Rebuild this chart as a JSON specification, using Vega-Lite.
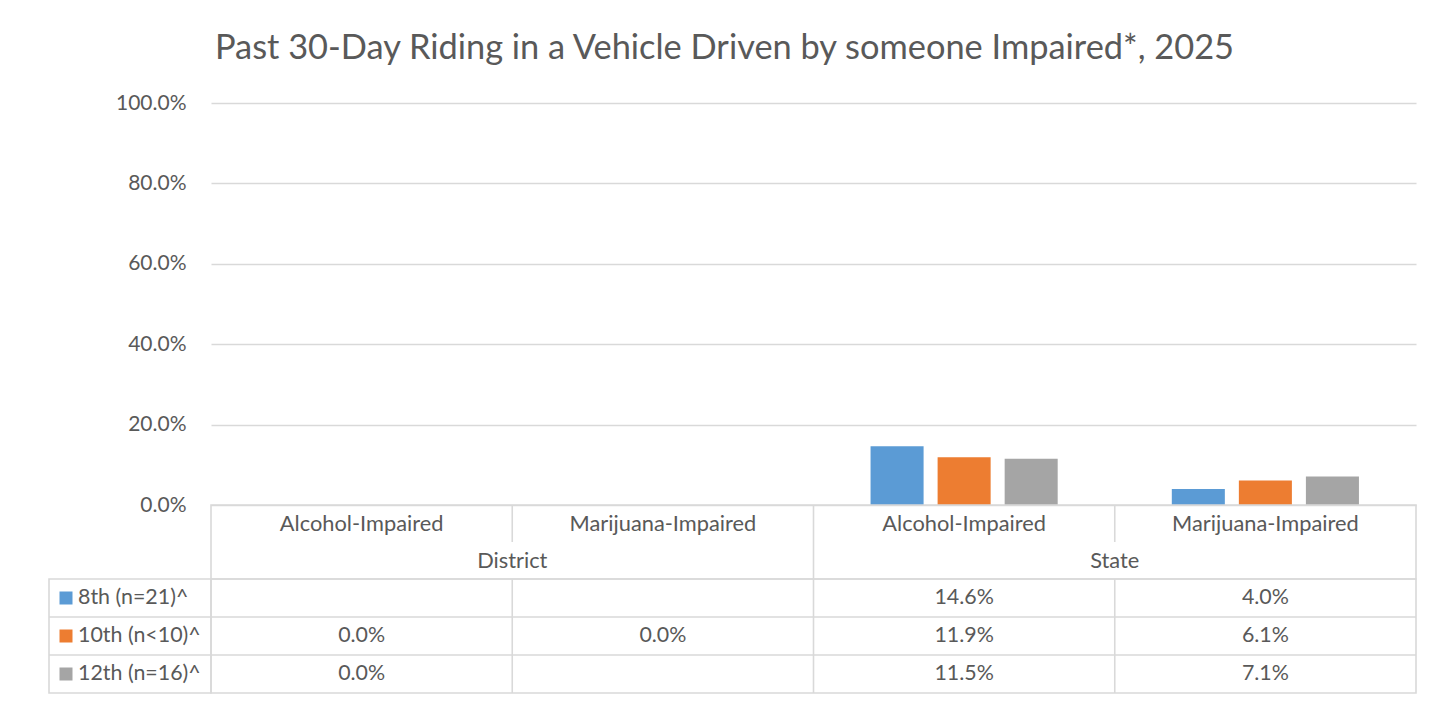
{
  "$schema": "https://vega.github.io/schema/vega-lite/v6.json",
  "padding": {"left": 47, "top": 30, "right": 31, "bottom": 10},
  "background": "white",
  "title": {"text": "Past 30-Day Riding in a Vehicle Driven by someone Impaired*, 2025", "fontSize": 34.4, "font": "Lato", "fontWeight": "normal", "color": "#595959", "anchor": "middle", "offset": 26, "dx": -8},
  "config": {"view": {"stroke": null}, "font": "Lato"},
  "datasets": {
    "bars": [
      {"col": "DA", "grade": "8th (n=21)^", "value": null},
      {"col": "DA", "grade": "10th (n<10)^", "value": 0.0},
      {"col": "DA", "grade": "12th (n=16)^", "value": 0.0},
      {"col": "DM", "grade": "8th (n=21)^", "value": null},
      {"col": "DM", "grade": "10th (n<10)^", "value": 0.0},
      {"col": "DM", "grade": "12th (n=16)^", "value": null},
      {"col": "SA", "grade": "8th (n=21)^", "value": 0.146},
      {"col": "SA", "grade": "10th (n<10)^", "value": 0.119},
      {"col": "SA", "grade": "12th (n=16)^", "value": 0.115},
      {"col": "SM", "grade": "8th (n=21)^", "value": 0.04},
      {"col": "SM", "grade": "10th (n<10)^", "value": 0.061},
      {"col": "SM", "grade": "12th (n=16)^", "value": 0.071}
    ],
    "cats": [
      {"col": "DA", "label": "Alcohol-Impaired"},
      {"col": "DM", "label": "Marijuana-Impaired"},
      {"col": "SA", "label": "Alcohol-Impaired"},
      {"col": "SM", "label": "Marijuana-Impaired"}
    ],
    "groups": [{"group": "District"}, {"group": "State"}],
    "vsegs": [
      {"col": "DM", "row": "cat"},
      {"col": "SA", "row": "cat"},
      {"col": "SM", "row": "cat"},
      {"col": "SA", "row": "grp"}
    ],
    "grades": [
      {"grade": "8th (n=21)^"},
      {"grade": "10th (n<10)^"},
      {"grade": "12th (n=16)^"}
    ]
  },
  "columns": 2,
  "spacing": 0,
  "bounds": "flush",
  "concat": [
    {
      "width": 162, "height": 402,
      "data": {"values": [{}]},
      "mark": {"type": "text", "text": ""},
      "encoding": {}
    },
    {
      "width": 1205, "height": 402,
      "data": {"name": "bars"},
      "mark": {"type": "bar"},
      "encoding": {
        "x": {"field": "col", "type": "nominal", "scale": {"type": "band", "domain": ["DA", "DM", "SA", "SM"], "paddingInner": 0, "paddingOuter": 0}, "axis": null},
        "xOffset": {"field": "grade", "type": "nominal", "scale": {"domain": ["8th (n=21)^", "10th (n<10)^", "12th (n=16)^"], "paddingInner": 0.209, "paddingOuter": 0.851}},
        "y": {"field": "value", "type": "quantitative", "scale": {"domain": [0, 1]},
              "axis": {"values": [0, 0.2, 0.4, 0.6, 0.8, 1], "format": ".1%", "title": null, "domain": false, "ticks": false, "labelPadding": 25, "labelFontSize": 21, "labelColor": "#595959", "labelFont": "Lato", "gridColor": "#D9D9D9", "gridWidth": 1.6}},
        "color": {"field": "grade", "type": "nominal", "scale": {"domain": ["8th (n=21)^", "10th (n<10)^", "12th (n=16)^"], "range": ["#5B9BD5", "#ED7D31", "#A5A5A5"]}, "legend": null}
      }
    },
    {
      "width": 162, "height": 74,
      "data": {"values": [{}]},
      "mark": {"type": "text", "text": ""},
      "encoding": {}
    },
    {
      "width": 1205, "height": 74,
      "view": {"stroke": "#D9D9D9", "strokeWidth": 1.6},
      "layer": [
        {
          "data": {"name": "cats"},
          "mark": {"type": "text", "fontSize": 21.8, "color": "#595959"},
          "encoding": {
            "x": {"field": "col", "type": "nominal", "scale": {"type": "band", "domain": ["DA", "DM", "SA", "SM"], "paddingInner": 0, "paddingOuter": 0}, "axis": null},
            "y": {"datum": "cat", "type": "nominal", "scale": {"type": "band", "domain": ["cat", "grp"], "paddingInner": 0, "paddingOuter": 0}, "axis": null},
            "text": {"field": "label"}
          }
        },
        {
          "data": {"name": "vsegs"},
          "mark": {"type": "tick", "orient": "vertical", "thickness": 1.6, "color": "#D9D9D9", "opacity": 1},
          "encoding": {
            "x": {"field": "col", "type": "nominal", "bandPosition": 0, "scale": {"type": "band", "domain": ["DA", "DM", "SA", "SM"], "paddingInner": 0, "paddingOuter": 0}, "axis": null},
            "y": {"field": "row", "type": "nominal", "scale": {"type": "band", "domain": ["cat", "grp"], "paddingInner": 0, "paddingOuter": 0}, "axis": null},
            "size": {"value": 37}
          }
        },
        {
          "data": {"name": "groups"},
          "mark": {"type": "text", "fontSize": 21.8, "color": "#595959"},
          "encoding": {
            "x": {"field": "group", "type": "nominal", "scale": {"type": "band", "domain": ["District", "State"], "paddingInner": 0, "paddingOuter": 0}, "axis": null},
            "y": {"datum": "grp", "type": "nominal", "scale": {"type": "band", "domain": ["cat", "grp"], "paddingInner": 0, "paddingOuter": 0}, "axis": null},
            "text": {"field": "group"}
          }
        }
      ],
      "resolve": {"scale": {"x": "independent"}}
    },
    {
      "width": 162, "height": 114,
      "view": {"stroke": "#D9D9D9", "strokeWidth": 1.6},
      "data": {"name": "grades"},
      "layer": [
        {
          "mark": {"type": "point", "shape": "square", "filled": true, "size": 169, "opacity": 1},
          "encoding": {
            "x": {"datum": "swatch", "type": "nominal", "scale": {"type": "point", "domain": ["swatch", "label"], "range": [17, 29], "padding": 0}, "axis": null},
            "y": {"field": "grade", "type": "nominal", "scale": {"type": "band", "domain": ["8th (n=21)^", "10th (n<10)^", "12th (n=16)^"], "paddingInner": 0, "paddingOuter": 0}, "axis": null},
            "color": {"field": "grade", "type": "nominal", "scale": {"domain": ["8th (n=21)^", "10th (n<10)^", "12th (n=16)^"], "range": ["#5B9BD5", "#ED7D31", "#A5A5A5"]}, "legend": null}
          }
        },
        {
          "mark": {"type": "text", "align": "left", "fontSize": 21.4, "color": "#595959"},
          "encoding": {
            "x": {"datum": "label", "type": "nominal", "scale": {"type": "point", "domain": ["swatch", "label"], "range": [17, 29], "padding": 0}, "axis": null},
            "y": {"field": "grade", "type": "nominal", "scale": {"type": "band", "domain": ["8th (n=21)^", "10th (n<10)^", "12th (n=16)^"], "paddingInner": 0, "paddingOuter": 0}, "axis": null},
            "text": {"field": "grade"}
          }
        },
        {
          "transform": [{"filter": "datum.grade != '8th (n=21)^'"}],
          "mark": {"type": "rule", "color": "#D9D9D9", "strokeWidth": 1.6},
          "encoding": {
            "y": {"field": "grade", "type": "nominal", "bandPosition": 0, "scale": {"type": "band", "domain": ["8th (n=21)^", "10th (n<10)^", "12th (n=16)^"], "paddingInner": 0, "paddingOuter": 0}, "axis": null}
          }
        }
      ]
    },
    {
      "width": 1205, "height": 114,
      "view": {"stroke": "#D9D9D9", "strokeWidth": 1.6},
      "layer": [
        {
          "data": {"name": "bars"},
          "transform": [{"filter": "isValid(datum.value)"}],
          "mark": {"type": "text", "fontSize": 21.4, "color": "#595959"},
          "encoding": {
            "x": {"field": "col", "type": "nominal", "scale": {"type": "band", "domain": ["DA", "DM", "SA", "SM"], "paddingInner": 0, "paddingOuter": 0}, "axis": null},
            "y": {"field": "grade", "type": "nominal", "scale": {"type": "band", "domain": ["8th (n=21)^", "10th (n<10)^", "12th (n=16)^"], "paddingInner": 0, "paddingOuter": 0}, "axis": null},
            "text": {"field": "value", "type": "quantitative", "format": ".1%"}
          }
        },
        {
          "data": {"name": "cats"},
          "transform": [{"filter": "datum.col != 'DA'"}],
          "mark": {"type": "rule", "color": "#D9D9D9", "strokeWidth": 1.6},
          "encoding": {
            "x": {"field": "col", "type": "nominal", "bandPosition": 0, "scale": {"type": "band", "domain": ["DA", "DM", "SA", "SM"], "paddingInner": 0, "paddingOuter": 0}, "axis": null}
          }
        },
        {
          "data": {"name": "grades"},
          "transform": [{"filter": "datum.grade != '8th (n=21)^'"}],
          "mark": {"type": "rule", "color": "#D9D9D9", "strokeWidth": 1.6},
          "encoding": {
            "y": {"field": "grade", "type": "nominal", "bandPosition": 0, "scale": {"type": "band", "domain": ["8th (n=21)^", "10th (n<10)^", "12th (n=16)^"], "paddingInner": 0, "paddingOuter": 0}, "axis": null}
          }
        }
      ]
    }
  ]
}
